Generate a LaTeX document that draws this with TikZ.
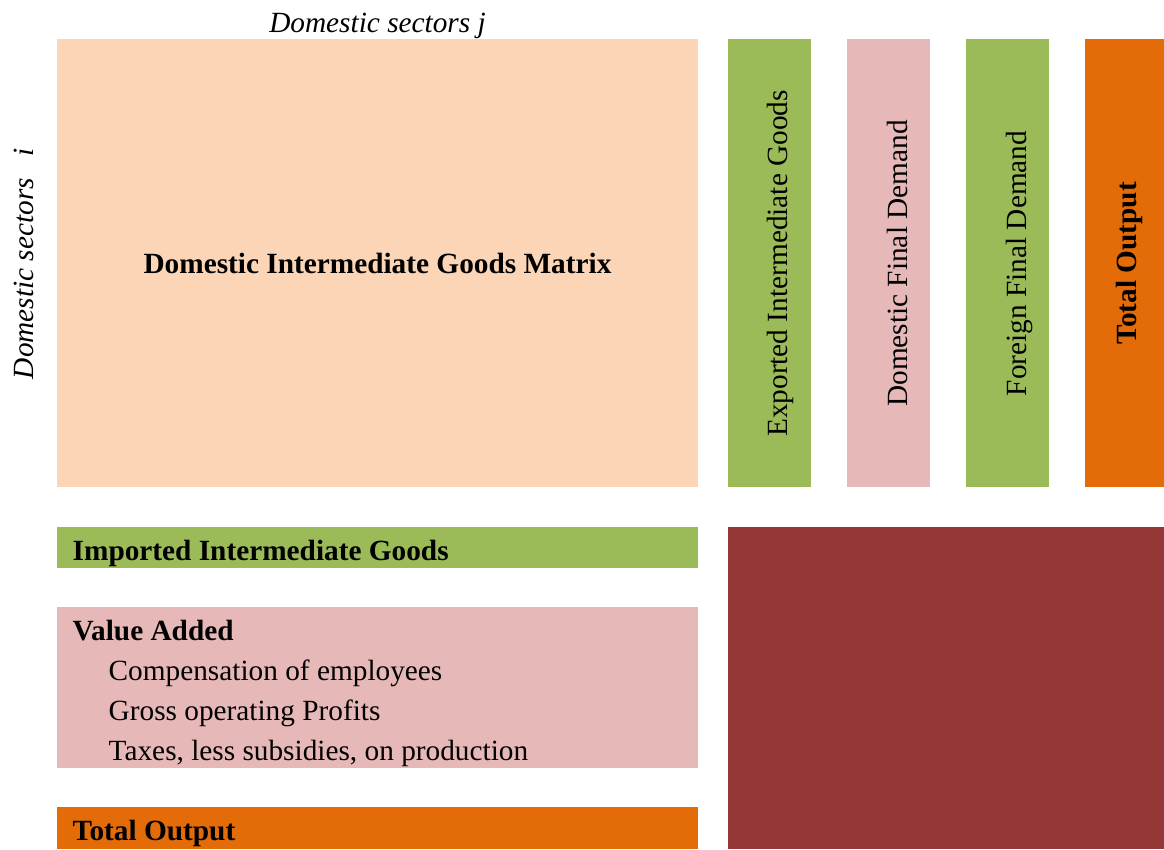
\documentclass[tikz,border=0pt]{standalone}
\usepackage{fontspec}
\setmainfont{Liberation Serif}
\definecolor{peach}{HTML}{FBD5B5}
\definecolor{leaf}{HTML}{9BBB59}
\definecolor{rose}{HTML}{E6B9B8}
\definecolor{pumpkin}{HTML}{E36C09}
\definecolor{wine}{HTML}{953735}
\tikzset{
	box/.style={rectangle,anchor=north west,inner sep=0pt,outer sep=0pt},
	txt/.style={inner sep=0pt,font=\fontsize{29.3}{35}\selectfont},
}
\begin{document}
\begin{tikzpicture}[x=1pt,y=-1pt]
	\useasboundingbox (0,0) rectangle (1164,849);
	% blocks of the table
	\path (57,39) node(dim)[box,fill=peach,minimum width=641pt,minimum height=448pt]{}
	(728,39) node(exp)[box,fill=leaf,minimum width=83pt,minimum height=448pt]{}
	(847,39) node(dfd)[box,fill=rose,minimum width=83pt,minimum height=448pt]{}
	(966,39) node(ffd)[box,fill=leaf,minimum width=83pt,minimum height=448pt]{}
	(1085,39) node(tot)[box,fill=pumpkin,minimum width=79pt,minimum height=448pt]{}
	(57,527) node(imp)[box,fill=leaf,minimum width=641pt,minimum height=41pt]{}
	(57,607) node(va)[box,fill=rose,minimum width=641pt,minimum height=161pt]{}
	(57,807) node(totrow)[box,fill=pumpkin,minimum width=641pt,minimum height=42pt]{}
	(728,527) node(corner)[box,fill=wine,minimum width=436pt,minimum height=322pt]{};
	% headings
	\path (377.5,32) node(colhead)[txt,anchor=base]{\itshape Domestic sectors j}
	(33.5,263.5) node(rowhead)[txt,anchor=base,rotate=90]{\itshape Domestic sectors\enspace\ i}
	(377.5,273) node(dimtxt)[txt,anchor=base]{\bfseries Domestic Intermediate Goods Matrix};
	% columns
	\path (787.5,263.5) node(exptxt)[txt,anchor=base,rotate=90]{Exported Intermediate Goods}
	(907.5,263.5) node(dfdtxt)[txt,anchor=base,rotate=90]{Domestic Final Demand}
	(1026.5,263.5) node(ffdtxt)[txt,anchor=base,rotate=90]{Foreign Final Demand}
	(1136.5,263.5) node(tottxt)[txt,anchor=base,rotate=90]{\bfseries Total Output};
	% rows
	\path (72.5,560) node(imptxt)[txt,anchor=base west]{\bfseries Imported Intermediate Goods}
	(72.5,640) node(vatxt)[txt,anchor=base west]{\bfseries Value Added}
	(108.5,680) node(va1)[txt,anchor=base west]{Compensation of employees}
	(108.5,720) node(va2)[txt,anchor=base west]{Gross operating Profits}
	(108.5,760) node(va3)[txt,anchor=base west]{Taxes, less subsidies, on production}
	(72.5,840) node(totrowtxt)[txt,anchor=base west]{\bfseries Total Output};
\end{tikzpicture}
\end{document}
